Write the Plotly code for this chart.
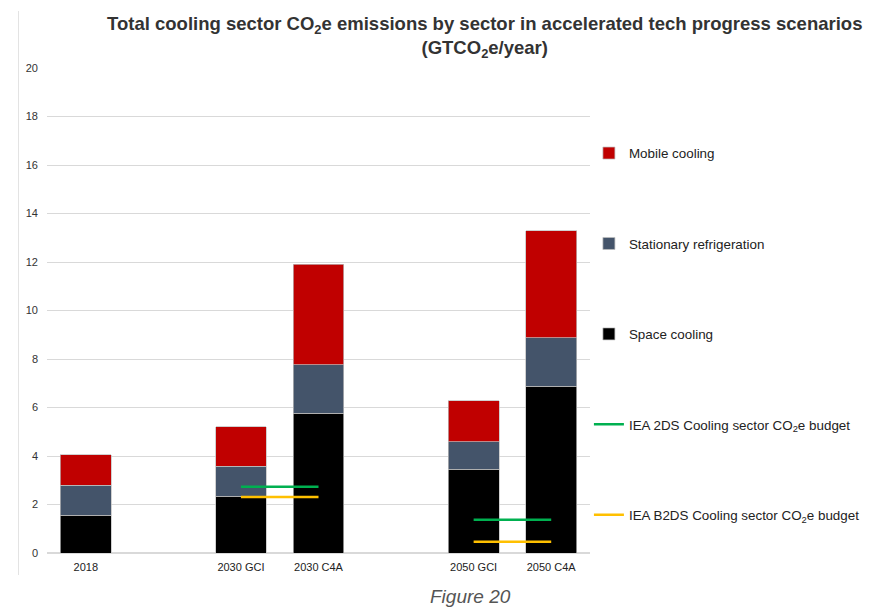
import plotly.graph_objects as go

categories = ["2018", " ", "2030 GCI", "2030 C4A", "  ", "2050 GCI", "2050 C4A"]
space_cooling = [1.55, None, 2.35, 5.77, None, 3.46, 6.88]
stationary_refrigeration = [1.25, None, 1.23, 2.0, None, 1.12, 1.99]
mobile_cooling = [1.25, None, 1.62, 4.13, None, 1.69, 4.41]
iea_2ds = [None, None, 2.73, 2.73, None, 1.37, 1.37]
iea_b2ds = [None, None, 2.31, 2.31, None, 0.46, 0.46]

font_family = "Liberation Sans, Arial, sans-serif"
edge = dict(color="rgba(190,190,190,0.9)", width=0.8)
bar_w = 0.655

fig = go.Figure()
fig.add_trace(go.Bar(x=categories, y=space_cooling, name="Space cooling",
                     marker=dict(color="#000000", line=edge), width=bar_w, legendrank=3))
fig.add_trace(go.Bar(x=categories, y=stationary_refrigeration, name="Stationary refrigeration",
                     marker=dict(color="#44546a", line=edge), width=bar_w, legendrank=2))
fig.add_trace(go.Bar(x=categories, y=mobile_cooling, name="Mobile cooling",
                     marker=dict(color="#c00000", line=edge), width=bar_w, legendrank=1))
fig.add_trace(go.Scatter(x=categories, y=iea_2ds, mode="lines",
                         name="IEA 2DS Cooling sector CO<sub>2</sub>e budget",
                         line=dict(color="#00b050", width=2.5), connectgaps=False, legendrank=4))
fig.add_trace(go.Scatter(x=categories, y=iea_b2ds, mode="lines",
                         name="IEA B2DS Cooling sector CO<sub>2</sub>e budget",
                         line=dict(color="#ffc000", width=2.5), connectgaps=False, legendrank=5))

for i, tr in enumerate(fig.data):
    tr.legendgroup = "g%d" % i

fig.update_layout(
    width=870, height=601,
    barmode="stack",
    plot_bgcolor="white", paper_bgcolor="white",
    margin=dict(l=39, r=288, t=60, b=56),
    font=dict(family=font_family, color="#222222"),
    title=dict(
        text="Total cooling sector CO<sub>2</sub>e emissions by sector in accelerated tech progress scenarios<br>(GTCO<sub>2</sub>e/year)",
        x=0.548, xanchor="center", xref="container",
        y=0.964, yanchor="top",
        font=dict(size=18.5, color="#333333", family=font_family, weight="bold"),
    ),
    xaxis=dict(
        type="category", categoryorder="array", categoryarray=categories,
        range=[-0.5, 6.5], showgrid=False, showline=False, zeroline=False,
        tickfont=dict(size=11, color="#222222"), ticks="", ticklabelstandoff=6,
    ),
    yaxis=dict(
        range=[0, 20], dtick=2, showgrid=True, gridcolor="#d9d9d9", gridwidth=1,
        zeroline=True, zerolinecolor="#d9d9d9", zerolinewidth=1.5,
        showline=False, tickfont=dict(size=11, color="#333333"), ticks="",
        ticklabelstandoff=8,
    ),
    legend=dict(
        x=0.998, xanchor="left", y=0.856, yanchor="top",
        traceorder="grouped", tracegroupgap=70,
        font=dict(size=13.4, color="#222222", family=font_family),
        itemwidth=30, bgcolor="rgba(0,0,0,0)",
    ),
    showlegend=True,
)

fig.add_shape(type="line", xref="paper", yref="paper",
              x0=-0.0525, x1=-0.0525, y0=-0.0454, y1=1.1175,
              line=dict(color="#e3e3e3", width=1))

fig.add_annotation(text="<i>Figure 20</i>", xref="paper", yref="paper",
                   x=0.780, y=-0.0907, xanchor="center", yanchor="middle",
                   showarrow=False, font=dict(size=19, color="#555555", family=font_family))

fig.write_html("out.html")
